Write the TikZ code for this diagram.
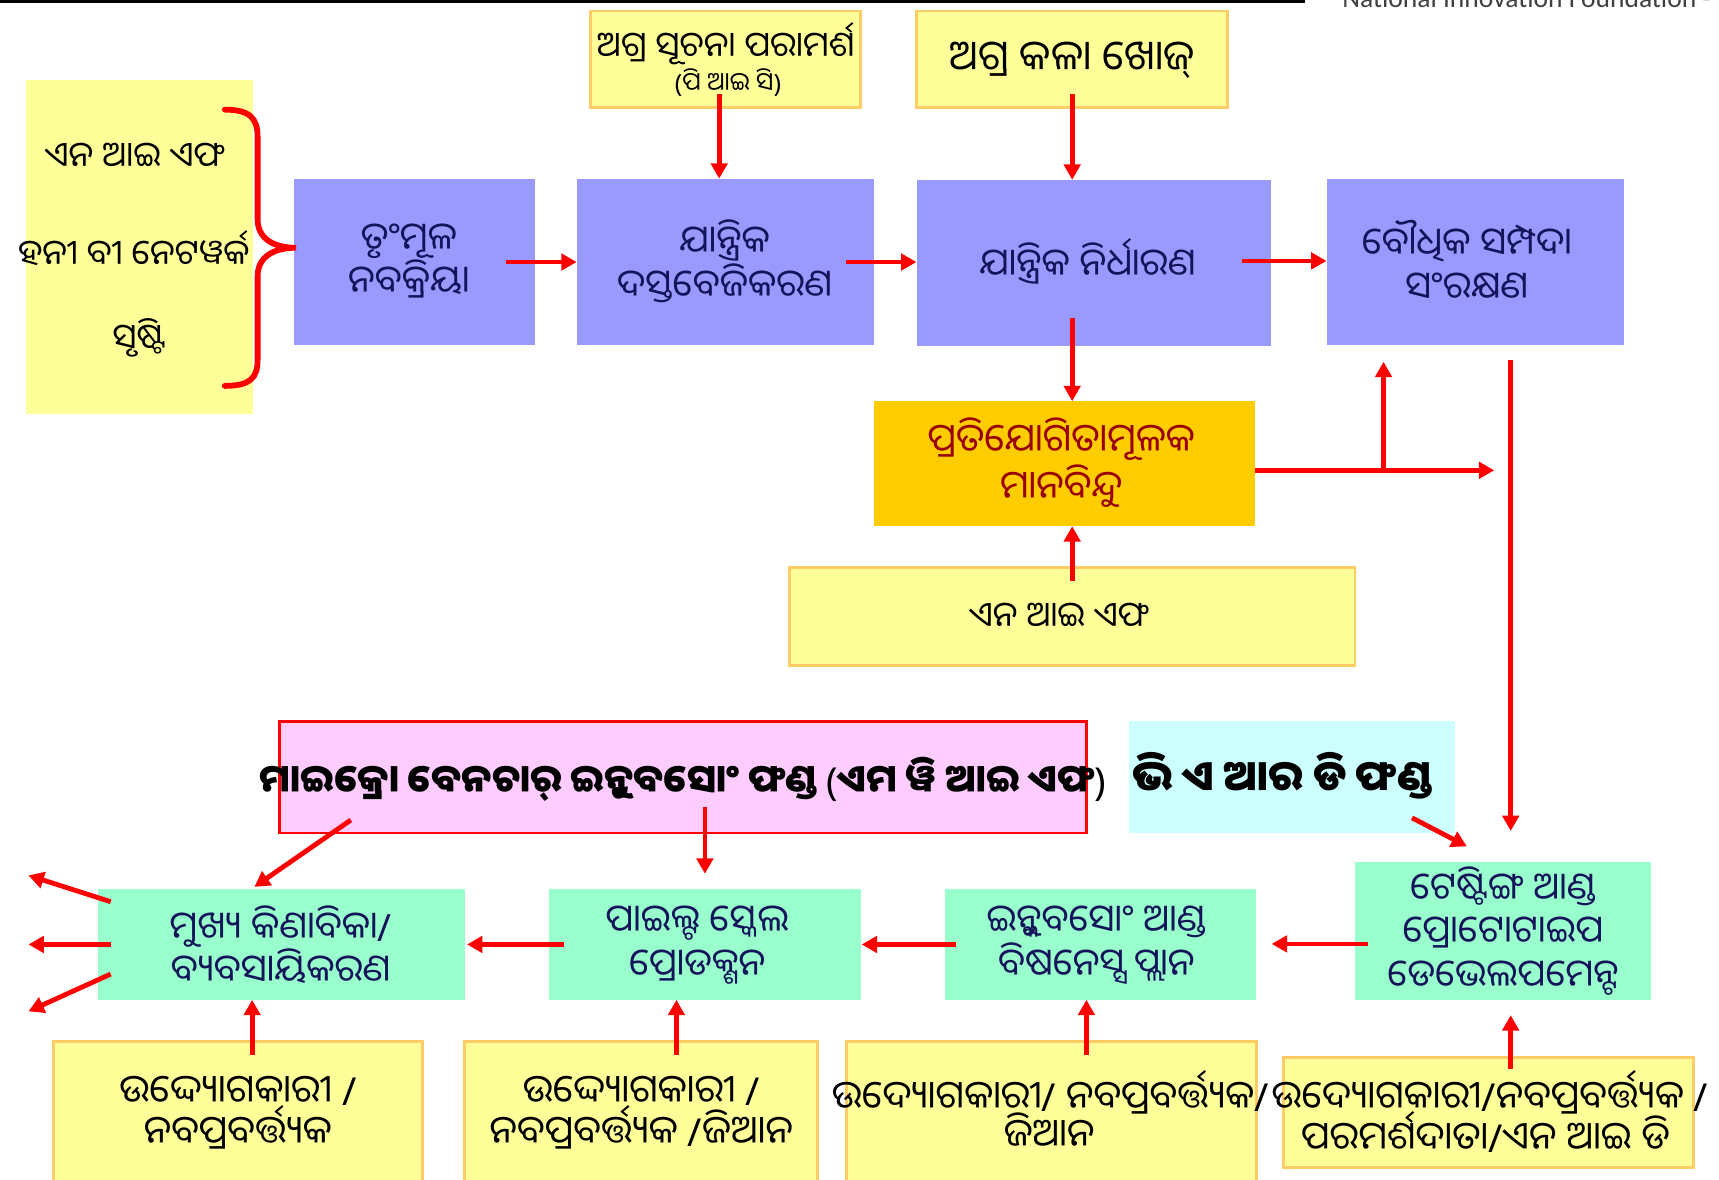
\documentclass[tikz,border=0pt]{standalone}
\usepackage{fontspec}
\setmainfont{Noto Sans}
\newfontfamily\od[Script=Oriya]{Noto Sans Oriya UI}
\newfontfamily\lat{Noto Sans}
\newfontfamily\calfont{Carlito}
\usetikzlibrary{arrows.meta,calc}
\definecolor{lyel}{HTML}{FFFF99}
\definecolor{ybord}{HTML}{FFCC66}
\definecolor{lblue}{HTML}{9999FF}
\definecolor{lgreen}{HTML}{99FFCC}
\definecolor{orng}{HTML}{FFCC00}
\definecolor{lpink}{HTML}{FFCCFF}
\definecolor{lcyan}{HTML}{CCFFFF}
\definecolor{navy}{HTML}{14145A}
\definecolor{maroon}{HTML}{990000}
\definecolor{nifgray}{HTML}{404040}
\newcommand\osl{{\lat /}}
\newcommand\olp{{\lat (}}
\newcommand\orp{{\lat )}}
\newcommand\mkbox[6]{\node[bx,#2,minimum width={(#5-#3)*0.02cm},minimum height={(#6-#4)*0.02cm}] (#1) at (#3,#4) {};}
\begin{document}
\begin{tikzpicture}[x=0.02cm,y=-0.02cm,
  bx/.style={rectangle,inner sep=0pt,outer sep=0pt,anchor=north west},
  yb/.style={fill=lyel},
  ybo/.style={fill=lyel,draw=ybord,line width=1.5pt},
  bb/.style={fill=lblue},
  gb/.style={fill=lgreen},
  ot/.style={font=\od\fontsize{18}{22.7}\selectfont,align=center,inner sep=0pt,text=black},
  nt/.style={ot,font=\od\fontsize{19.5}{22.7}\selectfont,text=navy},
  bt/.style={ot,font=\od\fontsize{20}{21.5}\selectfont},
  arr/.style={draw=red,line width=2.5pt,-{Triangle[length=8pt,width=8.5pt]}},
  brace/.style={draw=red,line width=3pt,line cap=round}]
\useasboundingbox (0,0) rectangle (1568,1075.5);
% header
\draw[line width=1.6pt] (0,1.4) -- (1190,1.4);
\node[anchor=base west,inner sep=0pt,font=\calfont\fontsize{14.3}{16}\selectfont,text=nifgray] (hdr) at (1224,6.5) {National Innovation Foundation -};
% boxes
\mkbox{L}{yb}{24}{73}{231}{378}
\mkbox{b1}{bb}{268}{163}{488}{315}
\mkbox{b2}{bb}{526}{163}{797}{315}
\mkbox{b3}{bb}{836}{164}{1159}{316}
\mkbox{b4}{bb}{1210}{163}{1481}{315}
\mkbox{pic}{ybo}{539}{10}{785}{98}
\mkbox{art}{ybo}{836}{10}{1120}{98}
\mkbox{cmp}{fill=orng}{797}{366}{1145}{480}
\mkbox{nif}{ybo}{720}{518}{1236}{607}
\mkbox{mvif}{fill=lpink,draw=red,line width=1.2pt}{255}{658}{991}{760}
\mkbox{vard}{fill=lcyan}{1030}{658}{1327}{760}
\mkbox{g1}{gb}{89}{811}{424}{912}
\mkbox{g2}{gb}{501}{811}{785}{912}
\mkbox{g3}{gb}{862}{811}{1146}{912}
\mkbox{g4}{gb}{1236}{786}{1506}{912}
\mkbox{y1}{ybo}{49}{950}{385}{1095}
\mkbox{y2}{ybo}{424}{950}{746}{1095}
\mkbox{y3}{ybo}{772}{950}{1146}{1095}
\mkbox{y4}{ybo}{1171}{965}{1545}{1065}
% texts
\node[ot] (tL1) at (123,143) {ଏନ ଆଇ ଏଫ};
\node[ot] (tL2) at (122,227) {ହନୀ ବୀ ନେଟୱର୍କ};
\node[ot] (tL3) at (127,308) {ସୃଷ୍ଟି};
\node[nt] (tb1) at (373,238) {ତୃଂମୂଳ\\ନବକ୍ରିୟା};
\node[nt] (tb2) at (661,238) {ଯାନ୍ତ୍ରିକ\\ଦସ୍ତବେଜିକରଣ};
\node[nt] (tb3) at (992,238) {ଯାନ୍ତ୍ରିକ ନିର୍ଧାରଣ};
\node[nt] (tb4) at (1338,238) {ବୌଧିକ ସମ୍ପଦା\\ସଂରକ୍ଷଣ};
\node[ot] (tpic1) at (662,40) {ଅଗ୍ର ସୂଚନା ପରାମର୍ଶ};
\node[ot,font=\od\fontsize{13}{15}\selectfont] (tpic2) at (664,75) {\olp ପି ଆଇ ସି\orp};
\node[ot,font=\od\fontsize{21.5}{25}\selectfont] (tart) at (978,55) {ଅଗ୍ର କଳା ଖୋଜ୍};
\node[ot,text=maroon,font=\od\fontsize{20}{24.5}\selectfont] (tcmp) at (968,422) {ପ୍ରତିଯୋଗିତାମୂଳକ\\ମାନବିନ୍ଦୁ};
\node[ot] (tnif) at (966,562) {ଏନ ଆଇ ଏଫ};
\node[ot,font=\od\bfseries\fontsize{20}{24}\selectfont] (tmvif) at (623,711) {ମାଇକ୍ରୋ ବେନଚାର୍ ଇନ୍କୁବସୋଂ ଫଣ୍ଡ \olp ଏମ ୱି ଆଇ ଏଫ\orp};
\node[ot,font=\od\bfseries\fontsize{22}{26}\selectfont] (tvard) at (1170,708) {ଭି ଏ ଆର ଡି ଫଣ୍ଡ};
\node[nt] (tg1) at (256,862) {ମୁଖ୍ୟ କିଣାବିକା\osl\\ବ୍ୟବସାୟିକରଣ};
\node[nt] (tg2) at (636,862) {ପାଇଲ୍ଟ ସ୍କେଲ\\ପ୍ରୋଡକ୍ଶନ};
\node[nt] (tg3) at (1000,862) {ଇନ୍କୁବସୋଂ ଆଣ୍ଡ\\ବିଷନେସ୍ସ ପ୍ଲାନ};
\node[nt] (tg4) at (1371,849) {ଟେଷ୍ଟିଙ୍ଗ ଆଣ୍ଡ\\ପ୍ରୋଟୋଟାଇପ\\ଡେଭେଲପମେନ୍ଟ};
\node[bt] (ty1) at (217,1015) {ଉଦ୍ଦ୍ୟୋଗକାରୀ \osl\\ନବପ୍ରବର୍ତ୍ତ୍ୟକ};
\node[bt] (ty2) at (585,1015) {ଉଦ୍ଦ୍ୟୋଗକାରୀ \osl\\ନବପ୍ରବର୍ତ୍ତ୍ୟକ \osl ଜିଆନ};
\node[bt] (ty3a) at (958,996) {ଉଦ୍ୟୋଗକାରୀ\osl{} ନବପ୍ରବର୍ତ୍ତ୍ୟକ\osl};
\node[bt] (ty3b) at (957,1032) {ଜିଆନ};
\node[bt] (ty4a) at (1359,996) {ଉଦ୍ୟୋଗକାରୀ\osl ନବପ୍ରବର୍ତ୍ତ୍ୟକ \osl};
\node[bt] (ty4b) at (1355,1033) {ପରମର୍ଶଦାତା\osl ଏନ ଆଇ ଡି};
% brace
\draw[brace] (205,100) .. controls (228,100) and (235,108) .. (235,125) -- (235,200)
  .. controls (235,218) and (250,226) .. (270,226)
  .. controls (250,226) and (235,234) .. (235,252) -- (235,328)
  .. controls (235,345) and (228,352) .. (205,352);
% connectors
\coordinate (c1) at ($(b1.east)+(-26,0)$);
\draw[arr] (c1) -- (c1 -| b2.west);
\coordinate (c2) at ($(b2.east)+(-25,0)$);
\draw[arr] (c2) -- (c2 -| b3.west);
\coordinate (c3) at ($(b3.east)+(-26,-2)$);
\draw[arr] (c3) -- (c3 -| b4.west);
\coordinate (c4) at ($(pic.south)+(-6,-12)$);
\draw[arr] (c4) -- (c4 |- b2.north);
\coordinate (c5) at ($(art.south)+(0,-12)$);
\draw[arr] (c5) -- (c5 |- b3.north);
\coordinate (c6) at ($(b3.south)+(-19.5,-26)$);
\draw[arr] (c6) -- (c6 |- cmp.north);
\coordinate (c7) at ($(cmp.east)+(0,6)$);
\coordinate (e7) at ($(c7)+(218,0)$);
\draw[arr] (c7) -- (e7);
\coordinate (c8) at ($(c7)+(117,0)$);
\draw[arr] (c8) -- ($(c8 |- b4.south)+(0,15)$);
\coordinate (c9) at ($(b4.south)+(32.5,13)$);
\draw[arr] (c9) -- ($(c9 |- g4.north)+(0,-28)$);
\coordinate (c10) at ($(nif.north)+(0,12)$);
\draw[arr] (c10) -- (c10 |- cmp.south);
\coordinate (c11) at ($(mvif.south west)+(65,-12)$);
\draw[arr] (c11) -- ($(g1.north)+(-24.5,-2)$);
\coordinate (c12) at ($(mvif.south west)+(388,-24)$);
\draw[arr] (c12) -- ($(c12 |- g2.north)+(0,-14)$);
\coordinate (c13) at ($(vard.south east)+(-39,-14)$);
\draw[arr] (c13) -- ($(g4.north west)+(102,-14)$);
\coordinate (c14) at ($(g4.west)+(12,12)$);
\draw[arr] (c14) -- ($(c14 -| g3.east)+(14,0)$);
\coordinate (c15) at ($(g3.west)+(10,0)$);
\draw[arr] (c15) -- ($(c15 -| g2.east)+(1,0)$);
\coordinate (c16) at ($(g2.west)+(13,0)$);
\draw[arr] (c16) -- ($(c16 -| g1.east)+(2,0)$);
\coordinate (o1) at ($(g1.west)+(-63,-63)$);
\coordinate (o2) at ($(g1.west)+(-63,0)$);
\coordinate (o3) at ($(g1.west)+(-63,61)$);
\draw[arr] ($(g1.west)+(12,-39)$) -- (o1);
\draw[arr] ($(g1.west)+(12,0)$) -- (o2);
\draw[arr] ($(g1.west)+(12,27)$) -- (o3);
\coordinate (c20) at ($(y1.north)+(13,12)$);
\draw[arr] (c20) -- (c20 |- g1.south);
\coordinate (c21) at ($(y2.north)+(32,12)$);
\draw[arr] (c21) -- (c21 |- g2.south);
\coordinate (c22) at ($(y3.north)+(32,12)$);
\draw[arr] (c22) -- (c22 |- g3.south);
\coordinate (c23) at ($(y4.north)+(20,10)$);
\draw[arr] (c23) -- ($(c23 |- g4.south)+(0,14)$);
\end{tikzpicture}
\end{document}
